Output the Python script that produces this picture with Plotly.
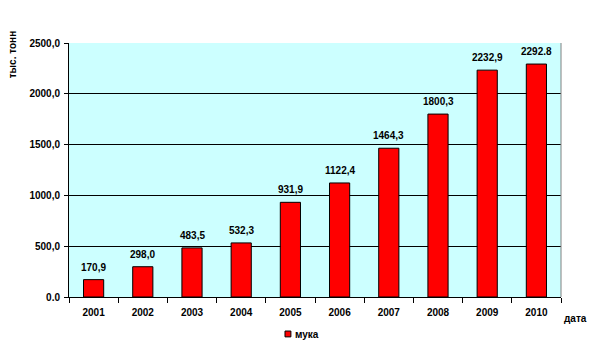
import plotly.graph_objects as go

years = ["2001", "2002", "2003", "2004", "2005", "2006", "2007", "2008", "2009", "2010"]
values = [170.9, 298.0, 483.5, 532.3, 931.9, 1122.4, 1464.3, 1800.3, 2232.9, 2292.8]
labels = ["170,9", "298,0", "483,5", "532,3", "931,9", "1122,4", "1464,3", "1800,3", "2232,9", "2292.8"]
ytick_vals = [0, 500, 1000, 1500, 2000, 2500]
ytick_text = ["0.0", "500,0", "1000,0", "1500,0", "2000,0", "2500,0"]
series_name = "мука"

FONT = "Liberation Sans, Arial, sans-serif"
BOLD = dict(family=FONT, size=10, color="#000000", weight="bold")

fig = go.Figure()
fig.add_trace(go.Bar(
    x=years, y=values, name=series_name,
    marker=dict(color="#FF0000", line=dict(color="#000000", width=1)),
    width=0.41, showlegend=False,
))

# value labels placed at each bar's (category index, value) position
label_annotations = [
    dict(x=i, y=v, text=t, xref="x", yref="y", yanchor="bottom", yshift=5,
         showarrow=False, font=BOLD)
    for i, (v, t) in enumerate(zip(values, labels))
]

fig.update_layout(
    width=592, height=352,
    margin=dict(l=61, r=39, t=35, b=63, autoexpand=False),
    paper_bgcolor="white", plot_bgcolor="#CCFFFF",
    font=BOLD,
    showlegend=False,
    xaxis=dict(type="category", categoryorder="array", categoryarray=years,
               range=[-0.5, len(years) - 0.5],
               showgrid=False, showline=True, linecolor="#000000", linewidth=1,
               ticks="outside", ticklen=5, tickcolor="#000000", tickson="boundaries",
               ticklabelstandoff=6, tickfont=BOLD),
    yaxis=dict(range=[0, 2500], tickvals=ytick_vals, ticktext=ytick_text,
               showgrid=True, gridcolor="#000000", gridwidth=1,
               showline=True, linecolor="#000000", linewidth=1,
               ticks="outside", ticklen=4, tickcolor="#000000",
               ticklabelstandoff=2, tickfont=BOLD, zeroline=False),
    annotations=label_annotations + [
        dict(text="тыс. тонн", xref="paper", yref="paper", x=-0.114, y=0.955,
             xanchor="center", yanchor="middle",
             textangle=-90, showarrow=False, font=BOLD),
        dict(text="дата", xref="paper", yref="paper", x=1.03, y=-0.083,
             xanchor="center", yanchor="middle",
             showarrow=False, font=BOLD),
        dict(text=series_name, xref="paper", yref="paper", x=0.455, y=-0.146,
             xanchor="left", yanchor="middle",
             showarrow=False, font=BOLD),
    ],
    shapes=[
        dict(type="line", xref="paper", yref="paper", x0=1, x1=1, y0=0, y1=1,
             line=dict(color="#808080", width=1)),
        dict(type="rect", xref="paper", yref="paper", x0=0.439, x1=0.451, y0=-0.157, y1=-0.134,
             fillcolor="#FF0000", line=dict(color="#000000", width=1)),
    ],
)

fig.write_html("out.html")
